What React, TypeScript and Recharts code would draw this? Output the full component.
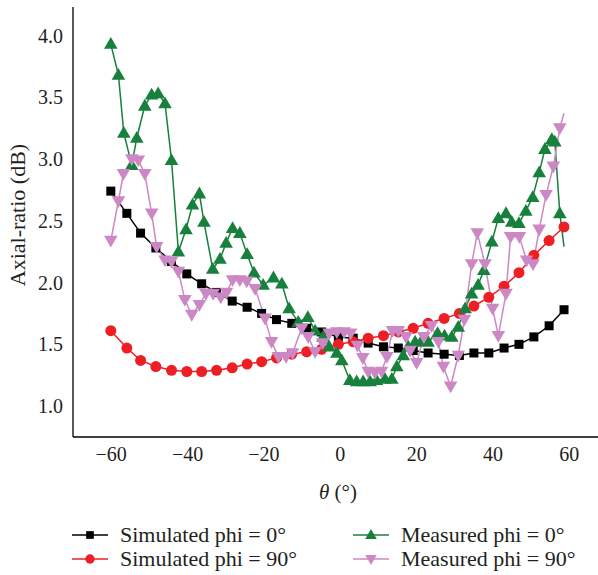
import React from 'react';
import { LineChart, Line, XAxis, YAxis, Legend, Label } from 'recharts';

// ---- data ----
const simTheta = [-60.1, -55.9, -52.3, -48.3, -44.2, -40.2, -36.3, -32.4, -28.3, -24.4, -20.6, -16.7, -12.7, -8.8, -4.9, -0.5, 3.4, 7.3, 11.3, 15.2, 19.1, 23.0, 27.2, 31.2, 35.0, 38.9, 42.9, 46.8, 50.7, 54.7, 58.6];
const simPhi0 = [2.74, 2.56, 2.40, 2.28, 2.17, 2.07, 1.99, 1.92, 1.85, 1.80, 1.75, 1.70, 1.67, 1.63, 1.60, 1.56, 1.55, 1.51, 1.48, 1.47, 1.45, 1.43, 1.42, 1.41, 1.43, 1.43, 1.47, 1.50, 1.56, 1.65, 1.78];
const simPhi90 = [1.61, 1.47, 1.37, 1.32, 1.29, 1.28, 1.28, 1.29, 1.31, 1.34, 1.36, 1.39, 1.42, 1.44, 1.46, 1.50, 1.52, 1.55, 1.57, 1.60, 1.63, 1.67, 1.71, 1.75, 1.81, 1.88, 1.97, 2.08, 2.22, 2.34, 2.45];

const measPhi0Theta = [-60.1, -58.1, -56.7, -54.6, -53.3, -51.2, -49.4, -47.7, -45.9, -44.2, -42.4, -40.4, -38.7, -36.9, -35.7, -33.4, -31.5, -29.9, -28.2, -26.3, -24.4, -22.6, -20.2, -17.5, -15.3, -13.4, -11.0, -8.5, -6.6, -4.5, -2.9, -0.9, 0.4, 2.5, 4.3, 6.0, 7.8, 9.5, 11.7, 13.5, 14.8, 16.5, 17.8, 19.6, 21.3, 23.0, 25.5, 27.3, 29.2, 30.9, 32.7, 34.4, 36.1, 37.6, 39.7, 41.4, 43.4, 44.9, 46.8, 48.6, 50.4, 52.1, 53.6, 55.4, 56.2, 57.5, 58.6];
const measPhi0 = [3.93, 3.68, 3.21, 2.95, 3.17, 3.43, 3.52, 3.53, 3.45, 2.99, 2.25, 2.43, 2.63, 2.72, 2.49, 2.11, 2.19, 2.32, 2.44, 2.40, 2.23, 2.08, 1.98, 2.04, 1.99, 1.79, 1.68, 1.72, 1.61, 1.56, 1.48, 1.43, 1.37, 1.21, 1.20, 1.20, 1.20, 1.21, 1.22, 1.22, 1.32, 1.41, 1.48, 1.52, 1.53, 1.52, 1.59, 1.57, 1.56, 1.64, 1.79, 1.91, 1.98, 2.10, 2.33, 2.52, 2.56, 2.49, 2.48, 2.58, 2.69, 2.89, 3.08, 3.16, 3.14, 2.56, 2.29];

const measPhi90Theta = [-60.1, -58.1, -56.8, -54.6, -52.9, -51.2, -49.4, -48.1, -45.9, -44.2, -42.4, -40.7, -38.9, -36.9, -35.2, -33.3, -31.3, -29.8, -28.2, -26.3, -24.5, -22.3, -19.7, -18.0, -16.2, -14.2, -12.5, -10.1, -8.4, -6.6, -4.6, -2.9, -0.9, 1.0, 2.7, 4.5, 5.9, 7.3, 9.1, 10.8, 12.2, 13.7, 15.2, 17.2, 18.3, 20.0, 21.9, 23.9, 25.7, 27.0, 28.9, 30.9, 32.5, 34.4, 35.9, 37.9, 39.9, 41.4, 43.4, 44.6, 46.9, 48.8, 50.5, 52.1, 53.9, 55.8, 57.5, 58.6];
const measPhi90 = [2.34, 2.66, 2.88, 3.00, 2.99, 2.88, 2.56, 2.29, 2.18, 2.17, 2.09, 1.86, 1.74, 1.82, 1.91, 1.91, 1.88, 1.92, 2.02, 2.02, 2.01, 1.95, 1.71, 1.52, 1.40, 1.40, 1.43, 1.63, 1.56, 1.44, 1.51, 1.59, 1.60, 1.60, 1.59, 1.49, 1.39, 1.28, 1.27, 1.28, 1.40, 1.61, 1.61, 1.56, 1.45, 1.35, 1.56, 1.65, 1.52, 1.32, 1.16, 1.41, 1.70, 2.15, 2.40, 2.15, 1.79, 1.57, 1.91, 2.37, 2.37, 2.18, 2.15, 2.43, 2.71, 2.94, 3.25, 3.37];

const seriesNames = ['Simulated phi = 0°', 'Simulated phi = 90°', 'Measured phi = 0°', 'Measured phi = 90°'];
const xTicks = [-60, -40, -20, 0, 20, 40, 60];
const yTicks = [1.0, 1.5, 2.0, 2.5, 3.0, 3.5, 4.0];

// ---- styling ----
const FONT = '"Liberation Serif", "Times New Roman", serif';
const COLORS = ['#000000', '#ED1F24', '#17803C', '#CC88C4'];
const SHAPES = ['square', 'circle', 'up', 'down'];

const zip = (xs: number[], ys: number[]) => xs.map((x, i) => ({ x, y: ys[i] }));

const seriesData = [
  zip(simTheta, simPhi0),
  zip(simTheta, simPhi90),
  zip(measPhi0Theta, measPhi0),
  zip(measPhi90Theta, measPhi90),
];
// measured traces end with a line segment that carries no marker
const hideLastMarker = [false, false, true, true];

function Marker({ shape, cx, cy, color, s = 1 }: any) {
  switch (shape) {
    case 'square':
      return <rect x={cx - 4.5 * s} y={cy - 4.5 * s} width={9 * s} height={9 * s} fill={color} />;
    case 'circle':
      return <circle cx={cx} cy={cy} r={5.5 * s} fill={color} />;
    case 'up':
      return (
        <polygon
          points={`${cx},${cy - 7 * s} ${cx - 6.8 * s},${cy + 4.8 * s} ${cx + 6.8 * s},${cy + 4.8 * s}`}
          fill={color}
        />
      );
    default:
      return (
        <polygon
          points={`${cx - 6.8 * s},${cy - 4.8 * s} ${cx + 6.8 * s},${cy - 4.8 * s} ${cx},${cy + 7 * s}`}
          fill={color}
        />
      );
  }
}

const makeDot = (k: number) => (p: any) => {
  const key = `d-${k}-${p.index}`;
  if (p.cx == null || p.cy == null) return <g key={key} />;
  if (hideLastMarker[k] && p.index === seriesData[k].length - 1) return <g key={key} />;
  return (
    <g key={key}>
      <Marker shape={SHAPES[k]} cx={p.cx} cy={p.cy} color={COLORS[k]} />
    </g>
  );
};

const legendPos = [
  { left: 72, top: 2 },
  { left: 72, top: 26 },
  { left: 353, top: 2 },
  { left: 353, top: 26 },
];

const renderLegend = () => (
  <div style={{ position: 'relative', width: 598, height: 48 }}>
    {seriesNames.map((name, k) => (
      <div
        key={name}
        style={{
          position: 'absolute',
          left: legendPos[k].left,
          top: legendPos[k].top,
          height: 24,
          display: 'flex',
          alignItems: 'center',
          whiteSpace: 'nowrap',
        }}
      >
        <svg width={36} height={24} style={{ display: 'block' }}>
          <line x1={0} y1={12} x2={36} y2={12} stroke={COLORS[k]} strokeWidth={1.5} />
          <Marker shape={SHAPES[k]} cx={18} cy={12} color={COLORS[k]} s={0.85} />
        </svg>
        <span
          style={{
            marginLeft: 12,
            fontFamily: FONT,
            fontSize: 22,
            lineHeight: '24px',
            color: '#231f20',
          }}
        >
          {name}
        </span>
      </div>
    ))}
  </div>
);

const XTitle = (props: any) => {
  const vb = props.viewBox || {};
  const x = vb.x + vb.width / 2 + 2.5;
  const y = vb.y + 55;
  return (
    <text x={x} y={y} textAnchor="middle" dominantBaseline="central" fontFamily={FONT} fontSize={21} fill="#231f20">
      <tspan fontStyle="italic">θ</tspan>
      <tspan> (°)</tspan>
    </text>
  );
};

const YTitle = (props: any) => {
  const vb = props.viewBox || {};
  const x = vb.x + 17;
  const y = vb.y + vb.height / 2 - 7;
  return (
    <text
      x={x}
      y={y}
      transform={`rotate(-90, ${x}, ${y})`}
      textAnchor="middle"
      dominantBaseline="central"
      fontFamily={FONT}
      fontSize={22}
      fill="#231f20"
    >
      Axial-ratio (dB)
    </text>
  );
};

const tickStyle = { fill: '#231f20', fontSize: 20, fontFamily: FONT };

export default function App() {
  return (
    <div style={{ position: 'absolute', left: 0, top: 0, background: '#fff' }}>
      <LineChart width={598} height={575} margin={{ top: 7, right: 0, left: 0, bottom: 6 }}>
        <XAxis
          dataKey="x"
          type="number"
          domain={[-70, 67.5]}
          ticks={xTicks}
          allowDataOverflow
          height={84}
          tickLine={false}
          tickSize={0}
          tickMargin={10}
          axisLine={{ stroke: '#000', strokeWidth: 1.3 }}
          tick={tickStyle}
          tickFormatter={(v: number) => (v < 0 ? `\u2212${-v}` : `${v}`)}
        >
          <Label content={XTitle} />
        </XAxis>
        <YAxis
          type="number"
          domain={[0.75, 4.23]}
          ticks={yTicks}
          allowDataOverflow
          width={73}
          tickLine={false}
          tickSize={0}
          tickMargin={10}
          axisLine={{ stroke: '#000', strokeWidth: 1.3 }}
          tick={tickStyle}
          tickFormatter={(v: number) => v.toFixed(1)}
        >
          <Label content={YTitle} />
        </YAxis>
        <Legend verticalAlign="bottom" align="left" content={renderLegend} wrapperStyle={{ left: 0, width: 598 }} />
        {seriesData.map((d, k) => (
          <Line
            key={seriesNames[k]}
            name={seriesNames[k]}
            data={d}
            dataKey="y"
            type="linear"
            stroke={COLORS[k]}
            strokeWidth={1.5}
            dot={makeDot(k)}
            activeDot={false}
            isAnimationActive={false}
          />
        ))}
      </LineChart>
    </div>
  );
}
